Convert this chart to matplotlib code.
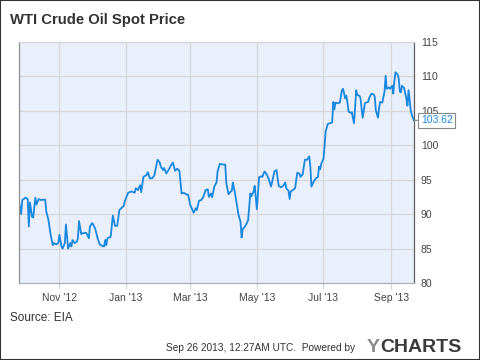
import matplotlib
matplotlib.use("Agg")
import matplotlib.pyplot as plt
import matplotlib.dates as mdates
from matplotlib.patches import Rectangle
import pandas as pd

plt.rcParams['font.family'] = ['Liberation Sans', 'DejaVu Sans']

title = "WTI Crude Oil Spot Price"
source = "Source: EIA"
stamp = "Sep 26 2013, 12:27AM UTC.  Powered by"
last_label = "103.62"
y_ticks = [80, 85, 90, 95, 100, 105, 110, 115]

# WTI spot (USD/bbl)
dates = [
    "2012-09-25", "2012-09-27", "2012-09-28", "2012-10-01", "2012-10-03", "2012-10-04", "2012-10-05",
    "2012-10-07", "2012-10-08", "2012-10-10", "2012-10-11", "2012-10-13", "2012-10-15", "2012-10-17",
    "2012-10-19", "2012-10-20", "2012-10-22", "2012-10-24", "2012-10-26", "2012-10-27", "2012-10-29",
    "2012-10-31", "2012-11-01", "2012-11-03", "2012-11-04", "2012-11-06", "2012-11-07", "2012-11-09",
    "2012-11-11", "2012-11-12", "2012-11-13", "2012-11-15", "2012-11-17", "2012-11-18", "2012-11-19",
    "2012-11-21", "2012-11-22", "2012-11-25", "2012-11-26", "2012-11-28", "2012-11-29", "2012-12-01",
    "2012-12-02", "2012-12-04", "2012-12-06", "2012-12-08", "2012-12-10", "2012-12-12", "2012-12-13",
    "2012-12-14", "2012-12-15", "2012-12-18", "2012-12-19", "2012-12-20", "2012-12-22", "2012-12-24",
    "2012-12-26", "2012-12-28", "2012-12-30", "2012-12-31", "2013-01-03", "2013-01-06", "2013-01-09",
    "2013-01-10", "2013-01-12", "2013-01-14", "2013-01-15", "2013-01-17", "2013-01-20", "2013-01-21",
    "2013-01-23", "2013-01-25", "2013-01-27", "2013-01-28", "2013-01-30", "2013-02-01", "2013-02-02",
    "2013-02-04", "2013-02-05", "2013-02-07", "2013-02-09", "2013-02-11", "2013-02-13", "2013-02-15",
    "2013-02-17", "2013-02-19", "2013-02-21", "2013-02-23", "2013-02-25", "2013-02-27", "2013-03-01",
    "2013-03-03", "2013-03-04", "2013-03-06", "2013-03-07", "2013-03-09", "2013-03-11", "2013-03-13",
    "2013-03-15", "2013-03-17", "2013-03-18", "2013-03-20", "2013-03-21", "2013-03-23", "2013-03-25",
    "2013-03-26", "2013-03-28", "2013-03-31", "2013-04-02", "2013-04-03", "2013-04-05", "2013-04-06",
    "2013-04-08", "2013-04-09", "2013-04-11", "2013-04-13", "2013-04-14", "2013-04-16", "2013-04-17",
    "2013-04-18", "2013-04-20", "2013-04-22", "2013-04-23", "2013-04-25", "2013-04-26", "2013-04-28",
    "2013-04-29", "2013-05-01", "2013-05-03", "2013-05-05", "2013-05-06", "2013-05-08", "2013-05-10",
    "2013-05-12", "2013-05-14", "2013-05-16", "2013-05-17", "2013-05-19", "2013-05-21", "2013-05-23",
    "2013-05-25", "2013-05-27", "2013-05-28", "2013-05-30", "2013-05-31", "2013-06-01", "2013-06-03",
    "2013-06-05", "2013-06-07", "2013-06-09", "2013-06-10", "2013-06-12", "2013-06-14", "2013-06-16",
    "2013-06-18", "2013-06-19", "2013-06-20", "2013-06-22", "2013-06-24", "2013-06-26", "2013-06-27",
    "2013-06-28", "2013-06-29", "2013-07-01", "2013-07-02", "2013-07-03", "2013-07-05", "2013-07-07",
    "2013-07-09", "2013-07-10", "2013-07-11", "2013-07-12", "2013-07-14", "2013-07-16", "2013-07-18",
    "2013-07-19", "2013-07-21", "2013-07-22", "2013-07-23", "2013-07-24", "2013-07-26", "2013-07-27",
    "2013-07-29", "2013-07-30", "2013-07-31", "2013-08-01", "2013-08-03", "2013-08-04", "2013-08-05",
    "2013-08-06", "2013-08-08", "2013-08-09", "2013-08-11", "2013-08-12", "2013-08-14", "2013-08-16",
    "2013-08-17", "2013-08-18", "2013-08-20", "2013-08-21", "2013-08-22", "2013-08-24", "2013-08-25",
    "2013-08-26", "2013-08-27", "2013-08-28", "2013-08-30", "2013-08-31", "2013-09-02", "2013-09-03",
    "2013-09-04", "2013-09-05", "2013-09-07", "2013-09-08", "2013-09-09", "2013-09-10", "2013-09-11",
    "2013-09-13", "2013-09-14", "2013-09-15", "2013-09-16", "2013-09-17", "2013-09-19", "2013-09-20",
    "2013-09-22",
]
price = [
    91.8, 90.0, 92.05, 92.4, 92.2, 88.2, 91.7,
    89.6, 89.5, 92.4, 91.4, 92.2, 92.05, 92.1,
    92.1, 90.4, 89.15, 87.0, 85.5, 85.8, 85.6,
    85.8, 87.0, 85.3, 85.0, 85.8, 88.5, 85.0,
    85.8, 85.3, 86.25, 85.8, 86.0, 86.5, 89.0,
    87.1, 87.2, 87.3, 87.2, 86.5, 88.2, 88.7,
    88.5, 87.8, 86.5, 85.6, 85.4, 85.3, 86.25,
    85.5, 86.5, 86.7, 88.2, 89.8, 88.3, 88.3,
    90.6, 90.9, 91.2, 91.9, 93.1, 93.3, 93.1,
    93.75, 93.5, 94.2, 93.2, 95.4, 95.7, 96.1,
    95.2, 95.2, 95.6, 96.4, 97.9, 97.5, 96.9,
    96.4, 96.7, 95.9, 96.4, 97.0, 97.5, 96.3,
    96.6, 96.3, 93.0, 93.1, 92.9, 92.8, 91.3,
    90.6, 90.2, 90.85, 90.6, 91.95, 92.05, 92.5,
    93.5, 93.6, 92.5, 93.0, 92.45, 94.0, 94.6,
    96.2, 97.3, 97.2, 97.2, 94.5, 92.9, 93.1,
    93.4, 94.6, 93.0, 91.1, 90.0, 88.9, 86.6,
    87.8, 88.2, 88.75, 89.15, 93.0, 92.6, 93.3,
    94.1, 90.7, 95.35, 95.5, 95.4, 96.2, 95.8,
    95.05, 94.0, 95.4, 96.2, 96.4, 94.1, 93.9,
    94.1, 94.6, 93.75, 93.4, 92.2, 93.3, 93.5,
    93.75, 96.0, 95.9, 95.4, 95.8, 97.9, 97.9,
    98.4, 96.9, 94.0, 94.7, 95.2, 95.4, 96.9,
    96.5, 97.3, 98.0, 99.8, 102.0, 103.1, 103.2,
    103.3, 106.3, 105.2, 106.2, 106.1, 106.2, 108.0,
    108.2, 106.8, 107.2, 106.2, 104.9, 104.7, 104.8,
    103.2, 105.4, 108.0, 107.3, 107.2, 106.8, 105.3,
    104.0, 106.1, 106.2, 106.3, 106.9, 107.5, 107.4,
    107.05, 105.1, 104.0, 105.4, 106.3, 106.2, 107.05,
    107.8, 110.1, 108.2, 108.4, 108.2, 108.65, 107.5,
    109.3, 110.6, 110.3, 109.7, 107.8, 107.7, 108.65,
    108.3, 107.5, 106.8, 105.75, 108.0, 105.1, 104.4,
    103.62,
]

x = pd.to_datetime(dates)

fig = plt.figure(figsize=(4.8, 3.6), dpi=100)
ax = fig.add_axes([19/480, 77/360, 395/480, 241/360])
ax.set_facecolor('#eaf0fb')

ax.plot(x, price, color='#1a87e0', lw=1.3, solid_joinstyle='round')

ax.set_xlim(x[0], x[-1])
ax.set_ylim(80, 115)
ax.set_yticks(y_ticks)
ax.yaxis.tick_right()
ax.tick_params(axis='y', length=0, pad=5, labelsize=7.5, labelcolor='#444444')

ax.xaxis.set_major_locator(mdates.MonthLocator(bymonth=[1, 3, 5, 7, 9, 11]))
ax.xaxis.set_major_formatter(mdates.DateFormatter("%b '%y"))
ax.tick_params(axis='x', length=4, width=0.8, color='#d4d4d4', pad=3,
               labelsize=7.5, labelcolor='#444444')

ax.grid(True, color='#d6d6d6', lw=0.9)
ax.set_axisbelow(True)
ax.spines['top'].set_color('#d6d6d6')
ax.spines['left'].set_color('#909090')
ax.spines['bottom'].set_color('#a8b0c0')
ax.spines['right'].set_color('#606060')
for s in ax.spines.values():
    s.set_linewidth(0.9)

# last value tag
ax.annotate(last_label, xy=(x[-1], price[-1]), xytext=(5, 0), textcoords='offset points',
            ha='left', va='center', fontsize=7.5, color='#1a87e0', annotation_clip=False,
            bbox=dict(boxstyle='square,pad=0.25', fc='white', ec='#888888', lw=0.8),
            arrowprops=dict(arrowstyle='-', color='#888888', lw=0.8, shrinkA=0, shrinkB=0))

fig.text(10/480, 1-20/360, title, fontsize=10.7, fontweight='bold', color='#333333',
         ha='left', va='center')
fig.text(10/480, 1-318/360, source, fontsize=8.5, color='#333333', ha='left', va='center')
fig.text(355/480, 1-348/360, stamp, fontsize=7.3, color='#333333', ha='right', va='center')
fig.text(367/480, 1-348/360, "Y", fontsize=14, fontweight='bold', color='#8a8a8a',
         ha='left', va='center')
fig.text(380/480, 1-348/360, "CHARTS", fontsize=14, fontweight='bold', color='#3a3a3a',
         ha='left', va='center')

fig.patches.append(Rectangle((0, 0), 1, 1, transform=fig.transFigure, fill=False,
                             ec='#333333', lw=1.5))

fig.savefig('out.png', dpi=100)
